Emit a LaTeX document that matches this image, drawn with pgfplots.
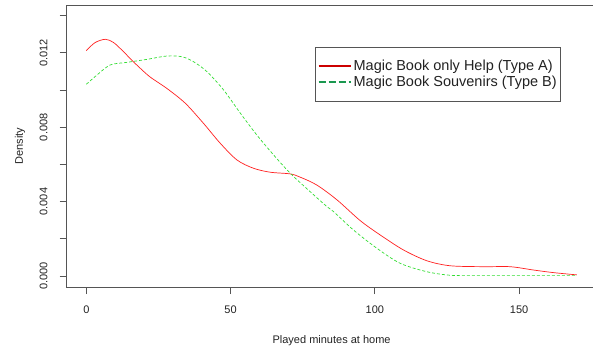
\documentclass[border=0pt]{standalone}
\usepackage{pgfplots}
\pgfplotsset{compat=1.18}
\usepackage{fontspec}
\setmainfont{Liberation Sans}
\definecolor{frame}{HTML}{555555}
\definecolor{txt}{HTML}{222222}
\definecolor{redA}{HTML}{FF2020}
\definecolor{greenB}{HTML}{33DD33}
\definecolor{legred}{HTML}{CC0000}
\definecolor{leggreen}{HTML}{1A9850}
\begin{document}
\begin{tikzpicture}[x=1pt,y=1pt]
\begin{axis}[
  scale only axis,
  width=529.8pt, height=281.5pt,
  xmin=-6.8, xmax=176.8,
  ymin=-0.000592, ymax=0.014547,
  scaled y ticks=false,
  axis line style={frame, line width=0.8pt},
  tick style={frame, line width=0.8pt},
  tick align=outside,
  major tick length=7pt,
  xtick={0,50,100,150},
  xticklabels={0,50,100,150},
  ytick={0,0.002,0.004,0.006,0.008,0.010,0.012,0.014},
  yticklabels={0.000,{},0.004,{},0.008,{},0.012,{}},
  xtick pos=bottom, ytick pos=left,
  ticklabel style={font=\fontsize{11}{13}\selectfont, text=txt},
  yticklabel style={anchor=east, inner sep=0pt, xshift=-12pt, rotate=90, anchor=south},
  xticklabel style={anchor=north, inner sep=0pt, yshift=-12pt},
  xlabel={Played minutes at home},
  ylabel={Density},
  label style={font=\fontsize{11}{13}\selectfont, text=txt},
  xlabel style={at={(axis description cs:0.5,0)}, anchor=center, yshift=-54pt},
  ylabel style={at={(axis description cs:-0.0881,0.5)}, anchor=center},
  legend style={at={(rel axis cs:0.4687,0.8536)}, anchor=north west,
    draw=frame, line width=0.8pt, fill=white,
    font=\fontsize{14.5}{15.5}\selectfont, text=txt,
    inner xsep=2pt, inner ysep=11pt, row sep=0pt},
  legend cell align=left,
  legend image code/.code={\draw[#1] (0pt,0pt) -- (32pt,0pt);},
]
\coordinate (O) at (rel axis cs:0,0);
\addlegendimage{legred, line width=2.2pt}
\addlegendentry{Magic Book only Help (Type A)}
\addlegendimage{leggreen, line width=2.2pt, dash pattern=on 7pt off 3pt}
\addlegendentry{Magic Book Souvenirs (Type B)}
\addplot[redA, line width=0.7pt, smooth, forget plot] coordinates {
(0,0.01212) (3,0.01255) (6.6,0.01273) (9.5,0.01255) (12.9,0.01206) (15.8,0.01160)
(18.7,0.01117) (22.2,0.01069) (27.9,0.01009) (34.3,0.00929) (40.6,0.00821)
(46.4,0.00714) (52.2,0.00624) (58.0,0.00579) (63.8,0.00558) (70.7,0.00549)
(74.2,0.00531) (79.9,0.00489) (86.9,0.00409) (94.9,0.00298) (101.9,0.00220)
(109.9,0.00140) (118,0.00082) (126.1,0.00055) (137.7,0.00050) (146.9,0.00050)
(155,0.00032) (162,0.00018) (170,0.00006)
};
\addplot[greenB, line width=0.7pt, smooth, dash pattern=on 3pt off 2pt, forget plot] coordinates {
(0,0.01031) (3.7,0.01081) (8.3,0.01135) (14.1,0.01149) (21,0.01165) (27.9,0.01183)
(33.2,0.01179) (37.2,0.01152) (41.8,0.01099) (47.6,0.01000) (53.4,0.00875)
(59.1,0.00758) (64.9,0.00651) (70.7,0.00552) (77.6,0.00453) (83.4,0.00373)
(85.7,0.00346) (92.6,0.00247) (100.7,0.00149) (108.8,0.00068) (118,0.00023)
(126.1,0.00004) (135,0.00002) (150,0.00002) (170,0.00002)
};
\end{axis}
\pgfresetboundingbox
\path[use as bounding box] ([xshift=-66.7pt,yshift=-62pt]O) rectangle ([xshift=526.3pt,yshift=287pt]O);
\end{tikzpicture}
\end{document}
